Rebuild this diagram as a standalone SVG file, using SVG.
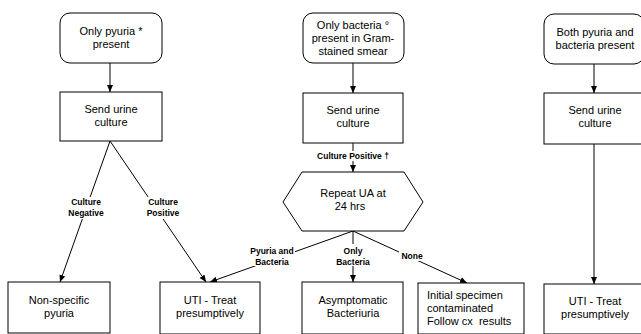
<svg xmlns="http://www.w3.org/2000/svg" width="641" height="334" viewBox="0 0 641 334">
<style>
.box{fill:#fff;stroke:#000;stroke-width:1}
.t{font-family:"Liberation Sans",Arial,sans-serif;font-size:11px;text-anchor:middle;fill:#000}
.tl{font-family:"Liberation Sans",Arial,sans-serif;font-size:11px;fill:#000}
.lbl{font-family:"Liberation Sans",Arial,sans-serif;font-size:8.5px;font-weight:bold;text-anchor:middle;fill:#000}
.c{stroke:#000;stroke-width:1;fill:none;marker-end:url(#ah)}
.lb{fill:#fff;stroke:none}
</style>
<defs>
<marker id="ah" markerWidth="8" markerHeight="8" refX="7" refY="4" orient="auto" markerUnits="userSpaceOnUse">
<path d="M0,1 L7,4 L0,7 Z" fill="#000"/>
</marker>
</defs>
<rect width="641" height="334" fill="#fff"/>
<g id="connectors">
<line class="c" x1="110" y1="63" x2="110" y2="92"/>
<line class="c" x1="353" y1="63" x2="353" y2="93"/>
<line class="c" x1="594" y1="64" x2="594" y2="93"/>
<line class="c" x1="110" y1="141" x2="60" y2="282"/>
<line class="c" x1="110" y1="141" x2="206" y2="282"/>
<line class="c" x1="353" y1="143" x2="353" y2="172"/>
<line class="c" x1="353" y1="231" x2="210" y2="282"/>
<line class="c" x1="353" y1="231" x2="353" y2="282"/>
<line class="c" x1="353" y1="231" x2="467" y2="283"/>
<line class="c" x1="594" y1="144" x2="594" y2="284"/>
<rect class="lb" x="67" y="197" width="38" height="22"/>
<text class="lbl" x="86" y="205">Culture</text>
<text class="lbl" x="86" y="216">Negative</text>
<rect class="lb" x="144" y="197" width="38" height="22"/>
<text class="lbl" x="163" y="205">Culture</text>
<text class="lbl" x="163" y="216">Positive</text>
<rect class="lb" x="312" y="151" width="82" height="10"/>
<text class="lbl" x="353" y="159">Culture Positive †</text>
<rect class="lb" x="249" y="244" width="46" height="22"/>
<text class="lbl" x="272" y="254">Pyuria and</text>
<text class="lbl" x="272" y="265">Bacteria</text>
<rect class="lb" x="334" y="244" width="38" height="22"/>
<text class="lbl" x="353" y="254">Only</text>
<text class="lbl" x="353" y="265">Bacteria</text>
<rect class="lb" x="399" y="251" width="26" height="10"/>
<text class="lbl" x="412" y="259">None</text>
</g>
<g id="n1">
<rect class="box" x="60" y="13" width="102" height="50" rx="10"/>
<text class="t" x="111" y="35">Only pyuria *</text>
<text class="t" x="111" y="48">present</text>
</g>
<g id="n2">
<rect class="box" x="303" y="13" width="101" height="50" rx="10"/>
<text class="t" x="353" y="29">Only bacteria °</text>
<text class="t" x="353" y="42">present in Gram-</text>
<text class="t" x="353" y="55">stained smear</text>
</g>
<g id="n3">
<rect class="box" x="544" y="14" width="100" height="50" rx="10"/>
<text class="t" x="595" y="36">Both pyuria and</text>
<text class="t" x="595" y="49">bacteria present</text>
</g>
<g id="n4">
<rect class="box" x="60" y="92" width="102" height="49"/>
<text class="t" x="111" y="113">Send urine</text>
<text class="t" x="111" y="126">culture</text>
</g>
<g id="n5">
<rect class="box" x="303" y="93" width="100" height="50"/>
<text class="t" x="353" y="114">Send urine</text>
<text class="t" x="353" y="127">culture</text>
</g>
<g id="n6">
<rect class="box" x="544" y="93" width="100" height="51"/>
<text class="t" x="595" y="114">Send urine</text>
<text class="t" x="595" y="127">culture</text>
</g>
<g id="n7">
<polygon class="box" points="302,172 404,172 423,202 404,231 302,231 283,202"/>
<text class="t" x="353" y="197">Repeat UA at</text>
<text class="t" x="350" y="210">24 hrs</text>
</g>
<g id="n8">
<rect class="box" x="8" y="282" width="102" height="51"/>
<text class="t" x="59" y="304">Non-specific</text>
<text class="t" x="59" y="317">pyuria</text>
</g>
<g id="n9">
<rect class="box" x="160" y="282" width="100" height="52"/>
<text class="t" x="210" y="304">UTI - Treat</text>
<text class="t" x="210" y="317">presumptively</text>
</g>
<g id="n10">
<rect class="box" x="302" y="282" width="101" height="52"/>
<text class="t" x="353" y="304">Asymptomatic</text>
<text class="t" x="353" y="317">Bacteriuria</text>
</g>
<g id="n11">
<rect class="box" x="418" y="283" width="106" height="51"/>
<text class="tl" x="427" y="299">Initial specimen</text>
<text class="tl" x="427" y="312">contaminated</text>
<text class="tl" x="427" y="325" xml:space="preserve">Follow cx  results</text>
</g>
<g id="n12">
<rect class="box" x="544" y="284" width="100" height="50"/>
<text class="t" x="595" y="305">UTI - Treat</text>
<text class="t" x="595" y="318">presumptively</text>
</g>
</svg>
